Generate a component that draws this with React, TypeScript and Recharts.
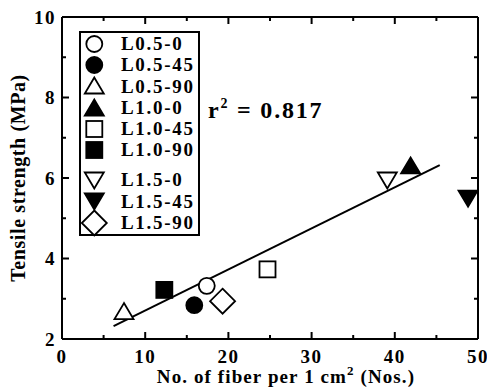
import React from 'react';
import { ScatterChart, Scatter, XAxis, YAxis, Legend, ReferenceLine, Customized } from 'recharts';

// ---- data ----
const seriesNames = ['L0.5-0', 'L0.5-45', 'L0.5-90', 'L1.0-0', 'L1.0-45', 'L1.0-90', 'L1.5-0', 'L1.5-45', 'L1.5-90'];
const markerKinds = ['circleOpen', 'circleFilled', 'triUpOpen', 'triUpFilled', 'squareOpen', 'squareFilled', 'triDownOpen', 'triDownFilled', 'diamondOpen'];
const fiberCount = [17.4, 15.9, 7.45, 41.9, 24.7, 12.3, 39.1, 48.8, 19.3];
const tensileStrength = [3.32, 2.84, 2.68, 6.3, 3.73, 3.22, 5.95, 5.5, 2.94];
const fitX = [6.2, 45.4];
const fitY = [2.32, 6.32];
const xTicks = [0, 5, 10, 15, 20, 25, 30, 35, 40, 45, 50];
const yTicks = [2, 3, 4, 5, 6, 7, 8, 9, 10];
const xMajorStep = 10;
const yMajorStep = 2;
const r2Text = '0.817';

const FONT = '"Liberation Serif", "Times New Roman", Times, serif';

function Marker({ kind, cx, cy }: { kind: string; cx: number; cy: number }) {
  const filled = kind.endsWith('Filled');
  const fill = filled ? '#000' : '#fff';
  const common = { fill, stroke: '#000', strokeWidth: 1.8 };
  if (kind.startsWith('circle')) return <circle cx={cx} cy={cy} r={8} {...common} />;
  if (kind.startsWith('square')) return <rect x={cx - 8} y={cy - 8} width={16} height={16} {...common} />;
  if (kind.startsWith('triUp'))
    return <polygon points={`${cx},${cy - 8.5} ${cx - 9.5},${cy + 7.5} ${cx + 9.5},${cy + 7.5}`} {...common} />;
  if (kind.startsWith('triDown'))
    return <polygon points={`${cx},${cy + 8.5} ${cx - 9.5},${cy - 7.5} ${cx + 9.5},${cy - 7.5}`} {...common} />;
  return <polygon points={`${cx},${cy - 12.5} ${cx + 12.5},${cy} ${cx},${cy + 12.5} ${cx - 12.5},${cy}`} {...common} />;
}

const BottomTick = (props: any) => {
  const { x, y, payload } = props;
  const major = payload.value % xMajorStep === 0;
  return (
    <g>
      <line x1={x} x2={x} y1={y} y2={y - (major ? 7 : 4)} stroke="#000" strokeWidth={2} />
      {major && (
        <text x={x} y={y + 24} textAnchor="middle" fontFamily={FONT} fontWeight="bold" fontSize={19} letterSpacing={1.5} fill="#000">
          {payload.value}
        </text>
      )}
    </g>
  );
};

const TopTick = (props: any) => {
  const { x, y, payload } = props;
  const major = payload.value % xMajorStep === 0;
  return <line x1={x} x2={x} y1={y} y2={y + (major ? 7 : 4)} stroke="#000" strokeWidth={2} />;
};

const LeftTick = (props: any) => {
  const { x, y, payload } = props;
  const major = payload.value % yMajorStep === 0;
  return (
    <g>
      <line x1={x} x2={x + (major ? 7 : 4)} y1={y} y2={y} stroke="#000" strokeWidth={2} />
      {major && (
        <text x={x - 6} y={y + 6.5} textAnchor="end" fontFamily={FONT} fontWeight="bold" fontSize={19} letterSpacing={1.5} fill="#000">
          {payload.value}
        </text>
      )}
    </g>
  );
};

const RightTick = (props: any) => {
  const { x, y, payload } = props;
  const major = payload.value % yMajorStep === 0;
  return <line x1={x} x2={x - (major ? 7 : 4)} y1={y} y2={y} stroke="#000" strokeWidth={2} />;
};

const XLabel = (props: any) => {
  const vb = props.viewBox;
  return (
    <text x={vb.x + vb.width / 2 + 16} y={vb.y + 44} textAnchor="middle" fontFamily={FONT} fontWeight="bold" fontSize={19} letterSpacing={1.1} fill="#000">
      No. of fiber per 1 cm
      <tspan dy={-8} fontSize={13}>2</tspan>
      <tspan dy={8}> (Nos.)</tspan>
    </text>
  );
};

const YLabel = (props: any) => {
  const vb = props.viewBox;
  const cx = 25;
  const cy = vb.y + vb.height / 2;
  return (
    <text x={cx} y={cy} transform={`rotate(-90 ${cx} ${cy})`} textAnchor="middle" fontFamily={FONT} fontWeight="bold" fontSize={20} letterSpacing={0.6} fill="#000">
      Tensile strength (MPa)
    </text>
  );
};

const R2Note = () => (
  <text x={208} y={118} fontFamily={FONT} fontWeight="bold" fontSize={24} letterSpacing={1.8} fill="#000">
    r<tspan dy={-10} fontSize={14}>2</tspan>
    <tspan dy={10}>{` = ${r2Text}`}</tspan>
  </text>
);

const LegendBox = () => (
  <div
    style={{
      boxSizing: 'border-box',
      width: 121,
      height: 204.5,
      border: '2px solid #000',
      background: '#fff',
      fontFamily: FONT,
      fontWeight: 'bold',
      fontSize: 19,
      letterSpacing: 1.7,
      color: '#000',
    }}
  >
    {seriesNames.map((name, i) => (
      <div
        key={name}
        style={{ display: 'flex', alignItems: 'center', height: 21.3, marginTop: i === 6 ? 8.5 : 0, lineHeight: '21.3px', whiteSpace: 'nowrap' }}
      >
        <svg width={40} height={22} style={{ overflow: 'visible', flex: 'none' }}>
          <Marker kind={markerKinds[i]} cx={13.3} cy={11} />
        </svg>
        <span>{name}</span>
      </div>
    ))}
  </div>
);

const mirrorData = [
  { x: fitX[0], y: fitY[0] },
  { x: fitX[1], y: fitY[1] },
];

export default function App() {
  return (
    <div style={{ position: 'absolute', left: 0, top: 0 }}>
      <ScatterChart width={487} height={391} margin={{ top: 16, right: 8, left: 0, bottom: 0 }}>
        <XAxis
          xAxisId="b"
          type="number"
          dataKey="x"
          domain={[0, 50]}
          ticks={xTicks}
          interval={0}
          tickSize={0}
          tickMargin={0}
          tickLine={false}
          axisLine={{ stroke: '#000', strokeWidth: 2 }}
          tick={BottomTick}
          height={52}
          label={{ content: XLabel }}
        />
        <XAxis
          xAxisId="t"
          orientation="top"
          type="number"
          dataKey="x"
          domain={[0, 50]}
          allowDataOverflow
          ticks={xTicks}
          interval={0}
          tickSize={0}
          tickMargin={0}
          tickLine={false}
          axisLine={{ stroke: '#000', strokeWidth: 2 }}
          tick={TopTick}
          height={1}
        />
        <YAxis
          yAxisId="l"
          type="number"
          dataKey="y"
          domain={[2, 10]}
          ticks={yTicks}
          interval={0}
          tickSize={0}
          tickMargin={0}
          tickLine={false}
          axisLine={{ stroke: '#000', strokeWidth: 2 }}
          tick={LeftTick}
          width={62}
          label={{ content: YLabel }}
        />
        <YAxis
          yAxisId="r"
          orientation="right"
          type="number"
          dataKey="y"
          domain={[2, 10]}
          allowDataOverflow
          ticks={yTicks}
          interval={0}
          tickSize={0}
          tickMargin={0}
          tickLine={false}
          axisLine={{ stroke: '#000', strokeWidth: 2 }}
          tick={RightTick}
          width={1}
        />
        <Scatter
          name="mirror"
          xAxisId="t"
          yAxisId="r"
          data={mirrorData}
          isAnimationActive={false}
          legendType="none"
          shape={() => <g />}
        />
        <ReferenceLine
          xAxisId="b"
          yAxisId="l"
          segment={[
            { x: fitX[0], y: fitY[0] },
            { x: fitX[1], y: fitY[1] },
          ]}
          stroke="#000"
          strokeWidth={2}
          ifOverflow="visible"
        />
        {seriesNames.map((name, i) => (
          <Scatter
            key={name}
            name={name}
            xAxisId="b"
            yAxisId="l"
            data={[{ x: fiberCount[i], y: tensileStrength[i] }]}
            isAnimationActive={false}
            shape={(p: any) => <Marker kind={markerKinds[i]} cx={p.cx} cy={p.cy} />}
          />
        ))}
        <Legend
          layout="vertical"
          align="center"
          verticalAlign="middle"
          wrapperStyle={{ left: 79, top: 31, width: 121, height: 205 }}
          content={() => <LegendBox />}
        />
        <Customized component={R2Note} />
      </ScatterChart>
    </div>
  );
}
